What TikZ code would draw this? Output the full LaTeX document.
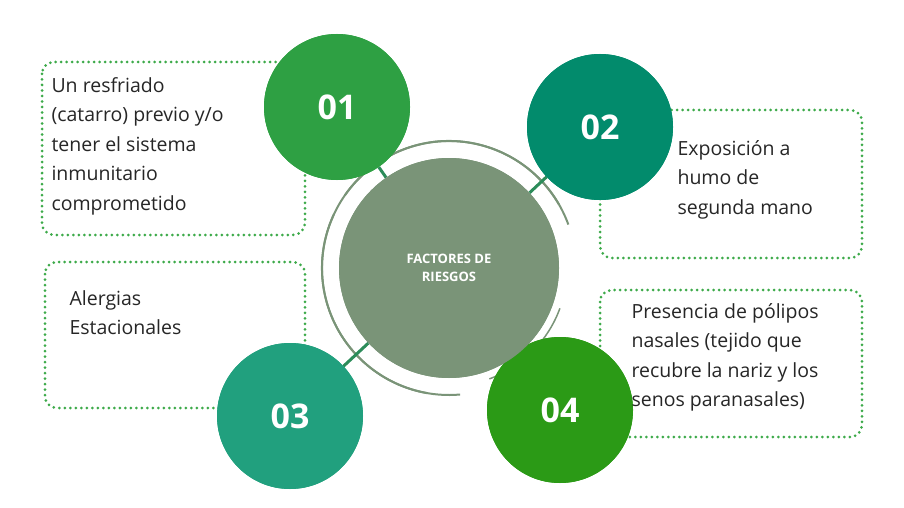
\documentclass[tikz,border=0pt]{standalone}
\usepackage{fontspec}
\setmainfont{Open Sans}
\usetikzlibrary{positioning}
\definecolor{centro}{HTML}{7A9478}
\definecolor{verdeA}{HTML}{2EA043}
\definecolor{verdeB}{HTML}{028B6C}
\definecolor{verdeC}{HTML}{21A07E}
\definecolor{verdeD}{HTML}{2B9A16}
\definecolor{borde}{HTML}{3DAA4A}
\definecolor{enlace}{HTML}{2C8C5A}
\tikzset{
  caja/.style={draw=borde, line width=3pt, dash pattern=on 0pt off 5.5pt, line cap=round, rounded corners=12pt},
  numero/.style={circle, minimum size=146pt, inner sep=0pt, text=white, font=\bfseries\fontsize{34}{34}\selectfont},
  medio/.style={circle, fill=centro, minimum size=220pt, inner sep=0pt, text=white,
    align=center, font=\bfseries\fontsize{13}{18}\selectfont},
  texto/.style={align=left, anchor=north west, font=\fontsize{19.5}{29.5}\selectfont, text=black!85},
  enlace/.style={draw=enlace, line width=3pt}
}
\begin{document}
\begin{tikzpicture}[x=1pt,y=-1pt]
\useasboundingbox (0,0) rectangle (904,508);
% cajas punteadas
\draw[caja] (42,62) rectangle (305,235);
\draw[caja] (600,110) rectangle (862,258);
\draw[caja] (45,262) rectangle (305,408);
\draw[caja] (600,290) rectangle (862,437);
% circulo central y anillo
\node[medio] (c) at (449,268) {FACTORES DE\\RIESGOS};
\draw[centro, line width=2pt] (449,268) ++(100:127) arc[start angle=100, end angle=205, radius=127];
\draw[centro, line width=2pt] (449,268) ++(215:127) arc[start angle=215, end angle=330, radius=127];
\draw[centro, line width=2pt] (449,268) ++(340:127) arc[start angle=340, end angle=85, radius=127];
\draw[centro, line width=1.5pt] (449,268) ++(20:118) arc[start angle=20, end angle=70, radius=118];
% circulos numerados
\node[numero, fill=verdeA] (n1) at (337,107) {};
\node[numero, fill=verdeB] (n2) at (600,127) {};
\node[numero, fill=verdeC] (n3) at (290,416) {};
\node[numero, fill=verdeD] (n4) at (560,410) {};
% enlaces
\draw[enlace] (c) -- (n1);
\draw[enlace] (c) -- (n2);
\draw[enlace] (c) -- (n3);
\draw[enlace] (c) -- (n4);
\node[numero, fill=verdeA] at (n1) {01};
\node[numero, fill=verdeB] at (n2) {02};
\node[numero, fill=verdeC] at (n3) {03};
\node[numero, fill=verdeD] at (n4) {04};
\node[medio] at (c) {FACTORES DE\\RIESGOS};
% textos
\node[texto] (t1) at (48,74) {Un resfriado\\(catarro) previo y/o\\tener el sistema\\inmunitario\\comprometido};
\node[texto] (t2) at (674,137) {Exposición a\\humo de\\segunda mano};
\node[texto] (t3) at (66,287) {Alergias\\Estacionales};
\node[texto] (t4) at (628,300) {Presencia de pólipos\\nasales (tejido que\\recubre la nariz y los\\senos paranasales)};
\end{tikzpicture}
\end{document}
